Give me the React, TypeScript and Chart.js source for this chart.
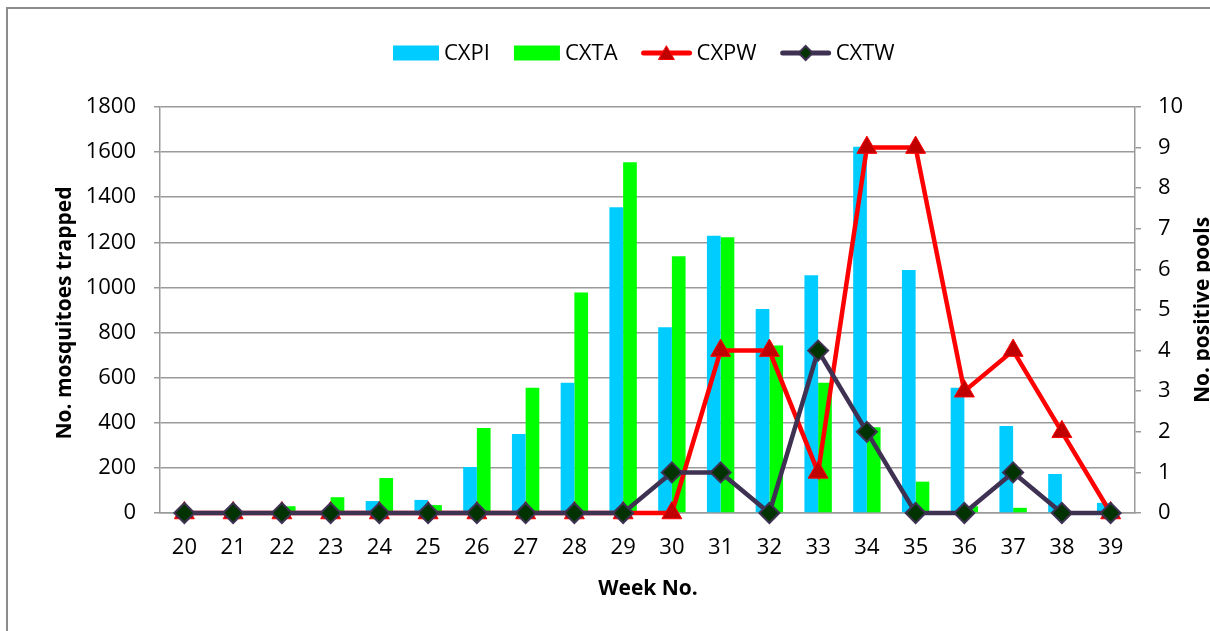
import React, { useEffect, useRef } from "react";
import { Chart, registerables } from "chart.js";

Chart.register(...registerables);

const weeks = ["20","21","22","23","24","25","26","27","28","29","30","31","32","33","34","35","36","37","38","39"];
const cxpi = [0, 0, 0, 0, 53, 58, 204, 350, 578, 1355, 823, 1229, 904, 1054, 1624, 1077, 555, 386, 173, 45];
const cxta = [8, 0, 30, 70, 155, 35, 377, 555, 978, 1555, 1138, 1222, 743, 578, 380, 139, 30, 23, 0, 0];
const cxpw = [0, 0, 0, 0, 0, 0, 0, 0, 0, 0, 0, 4, 4, 1, 9, 9, 3, 4, 2, 0];
const cxtw = [0, 0, 0, 0, 0, 0, 0, 0, 0, 0, 1, 1, 0, 4, 2, 0, 0, 1, 0, 0];

const leftTicksMax = 1800;
const leftTicksStep = 200;
const rightTicksMax = 10;
const rightTicksStep = 1;

const FONT = "'Open Sans', 'Noto Sans', sans-serif";
const GRID = "#9a9a9a";
const FRAME = "#8c8c8c";
const BLUE = "#00ccff";
const GREEN = "#00ff00";
const RED = "#ff0000";
const DARKRED = "#c00000";
const PURPLE = "#3f3151";
const DIAMOND = "#003300";

const W = 1210;
const H = 631;

function drawTriangle(ctx: CanvasRenderingContext2D, x: number, y: number, r: number) {
  ctx.beginPath();
  for (let i = 0; i < 3; i++) {
    const a = (i * 2 * Math.PI) / 3;
    const px = x + Math.sin(a) * r;
    const py = y - Math.cos(a) * r;
    if (i === 0) ctx.moveTo(px, py);
    else ctx.lineTo(px, py);
  }
  ctx.closePath();
  ctx.fillStyle = DARKRED;
  ctx.fill();
  ctx.strokeStyle = RED;
  ctx.lineWidth = 1;
  ctx.stroke();
}

function drawDiamond(ctx: CanvasRenderingContext2D, x: number, y: number, r: number) {
  ctx.beginPath();
  ctx.moveTo(x, y - r);
  ctx.lineTo(x + r, y);
  ctx.lineTo(x, y + r);
  ctx.lineTo(x - r, y);
  ctx.closePath();
  ctx.fillStyle = DIAMOND;
  ctx.fill();
  ctx.strokeStyle = PURPLE;
  ctx.lineWidth = 2;
  ctx.stroke();
}

const decorPlugin = {
  id: "decor",
  afterDraw(chart: any) {
    const ctx: CanvasRenderingContext2D = chart.ctx;
    ctx.save();
    ctx.font = `22px ${FONT}`;
    ctx.textBaseline = "middle";
    ctx.textAlign = "left";
    const ly = 53;
    let x = 393;
    const items = [
      { label: "CXPI", kind: "bar", color: BLUE },
      { label: "CXTA", kind: "bar", color: GREEN },
      { label: "CXPW", kind: "tri", color: RED },
      { label: "CXTW", kind: "dia", color: PURPLE },
    ];
    for (const it of items) {
      if (it.kind === "bar") {
        ctx.fillStyle = it.color;
        ctx.fillRect(x, ly - 7.5, 46, 15);
        x += 46;
      } else {
        ctx.strokeStyle = it.color;
        ctx.lineWidth = 5;
        ctx.lineCap = "round";
        ctx.beginPath();
        ctx.moveTo(x + 2, ly);
        ctx.lineTo(x + 48, ly);
        ctx.stroke();
        if (it.kind === "tri") drawTriangle(ctx, x + 25, ly + 2, 9);
        else drawDiamond(ctx, x + 25, ly, 7);
        x += 50;
      }
      x += 5;
      ctx.fillStyle = "#000";
      ctx.fillText(it.label, x, ly + 1);
      x += ctx.measureText(it.label).width + 24;
    }
    ctx.font = `bold 21px ${FONT}`;
    ctx.fillStyle = "#000";
    ctx.textAlign = "center";
    ctx.textBaseline = "alphabetic";
    ctx.fillText("Week No.", 648, 595);

    ctx.save();
    ctx.translate(71, 313);
    ctx.rotate(-Math.PI / 2);
    ctx.fillText("No. mosquitoes trapped", 0, 0);
    ctx.restore();

    ctx.save();
    ctx.translate(1209, 310);
    ctx.rotate(-Math.PI / 2);
    ctx.fillText("No. positive pools", 0, 0);
    ctx.restore();

    ctx.restore();
  },
};

export default function App() {
  const canvasRef = useRef<HTMLCanvasElement | null>(null);

  useEffect(() => {
    document.documentElement.style.overflow = "hidden";
    document.documentElement.style.background = "#fff";
    document.body.style.overflow = "hidden";
    const canvas = canvasRef.current;
    if (!canvas) return;
    const chart = new Chart(canvas, {
      type: "bar",
      data: {
        labels: weeks,
        datasets: [
          {
            type: "bar",
            label: "CXPI",
            data: cxpi,
            backgroundColor: BLUE,
            borderWidth: 0,
            yAxisID: "y",
            order: 2,
            categoryPercentage: 0.562,
            barPercentage: 1,
          },
          {
            type: "bar",
            label: "CXTA",
            data: cxta,
            backgroundColor: GREEN,
            borderWidth: 0,
            yAxisID: "y",
            order: 2,
            categoryPercentage: 0.562,
            barPercentage: 1,
          },
          {
            type: "line",
            label: "CXPW",
            data: cxpw,
            borderColor: RED,
            borderWidth: 4.5,
            tension: 0,
            pointStyle: "triangle",
            pointRadius: 11.5,
            pointBackgroundColor: DARKRED,
            pointBorderColor: RED,
            pointBorderWidth: 1,
            yAxisID: "y1",
            order: 1,
            clip: false,
          } as any,
          {
            type: "line",
            label: "CXTW",
            data: cxtw,
            borderColor: PURPLE,
            borderWidth: 4.5,
            tension: 0,
            pointStyle: "rectRot",
            pointRadius: 10,
            pointBackgroundColor: DIAMOND,
            pointBorderColor: PURPLE,
            pointBorderWidth: 2,
            yAxisID: "y1",
            order: 0,
            clip: false,
          } as any,
        ],
      },
      options: {
        responsive: false,
        maintainAspectRatio: false,
        animation: false,
        layout: { padding: { top: 107, left: 0, right: 0, bottom: 0 } },
        plugins: {
          legend: { display: false },
          title: { display: false },
          tooltip: { enabled: false },
        },
        scales: {
          x: {
            offset: true,
            grid: { display: true, drawOnChartArea: false, drawTicks: false },
            border: { display: true, color: GRID, width: 1.5 },
            ticks: { color: "#000", font: { family: FONT, size: 22 }, padding: 22, maxRotation: 0, autoSkip: false },
            afterFit: (s: any) => { s.height = H - 513; },
          },
          y: {
            position: "left",
            min: 0,
            max: leftTicksMax,
            grid: { color: GRID, lineWidth: 1.5, tickLength: 6, drawTicks: true },
            border: { display: true, color: GRID, width: 1.5 },
            ticks: {
              stepSize: leftTicksStep,
              color: "#000",
              font: { family: FONT, size: 22 },
              padding: 18,
              callback: (v: any) => String(v),
            },
            afterFit: (s: any) => { s.width = 160; },
          },
          y1: {
            position: "right",
            min: 0,
            max: rightTicksMax,
            grid: { drawOnChartArea: false, color: GRID, lineWidth: 1.5, tickLength: 6, drawTicks: true },
            border: { display: true, color: GRID, width: 1.5 },
            ticks: {
              stepSize: rightTicksStep,
              color: "#000",
              font: { family: FONT, size: 22 },
              padding: 17,
              callback: (v: any) => String(v),
            },
            afterFit: (s: any) => { s.width = W - 1135; },
          },
        },
      },
      plugins: [decorPlugin],
    });
    return () => chart.destroy();
  }, []);

  return (
    <div style={{ position: "fixed", left: 0, top: 0, width: W, height: H, background: "#fff", overflow: "hidden" }}>
      <canvas ref={canvasRef} width={W} height={H} style={{ position: "absolute", left: 0, top: 0, display: "block", width: W, height: H }} />
      <div style={{ position: "absolute", left: 6, top: 7, width: W, height: 2, background: FRAME }} />
      <div style={{ position: "absolute", left: 6, top: 7, width: 2, height: H, background: FRAME }} />
    </div>
  );
}
